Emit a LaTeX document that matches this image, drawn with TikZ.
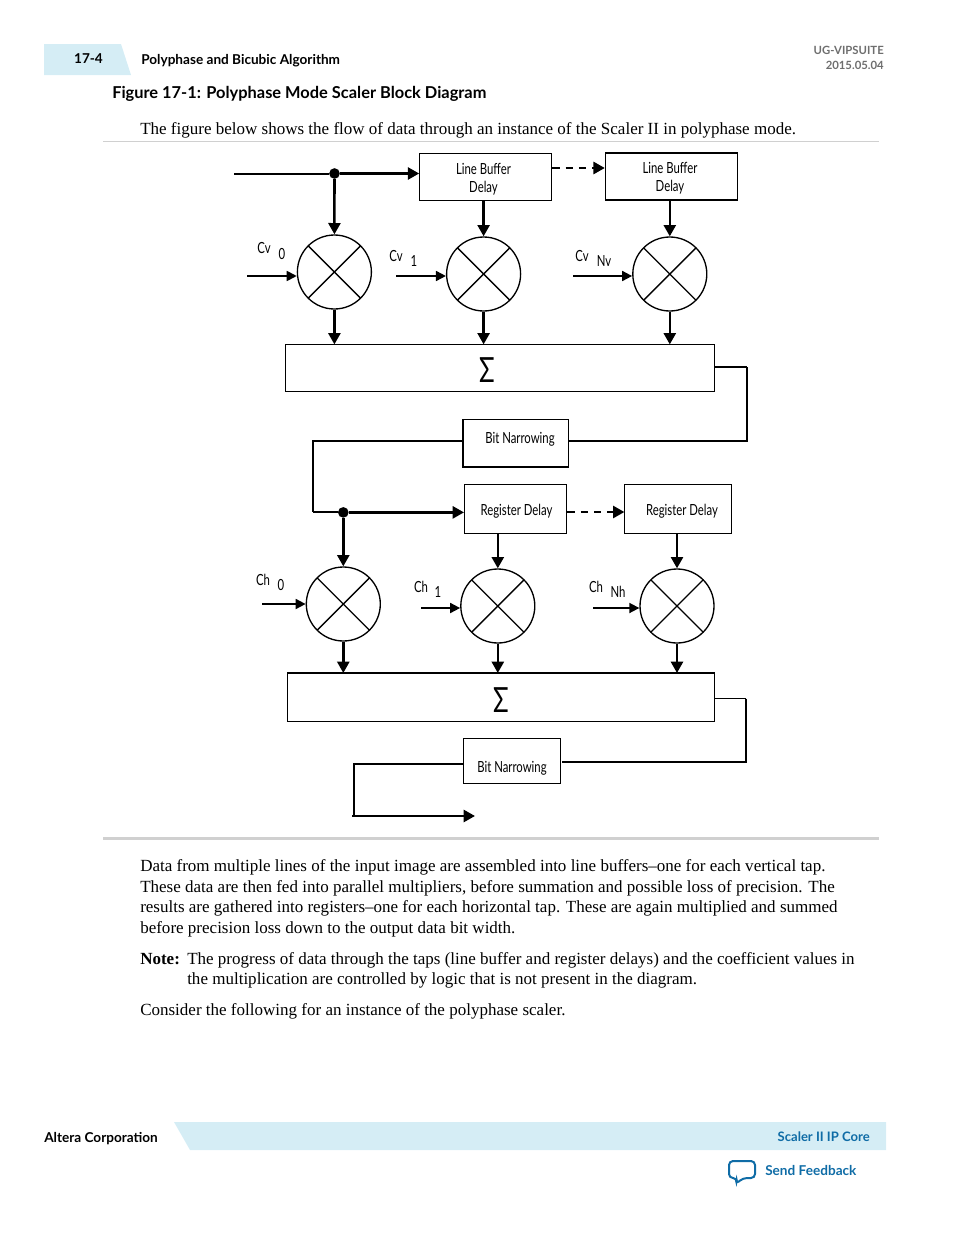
\documentclass[tikz,border=0pt]{standalone}
\usepackage{fontspec}
\setmainfont{Liberation Serif}
\newfontfamily\headfont{Lato}
\newfontfamily\blockfont[FakeStretch=0.74]{Lato}
\usetikzlibrary{arrows.meta}
\usetikzlibrary{calc}
\definecolor{bandblue}{HTML}{D5EDF5}
\definecolor{linkblue}{HTML}{0F6CA6}
\definecolor{rulegray}{HTML}{D0D0D0}
\definecolor{headgray}{HTML}{6E6E6E}
\tikzstyle{arrow} = [line width=1.9pt,-{Triangle[length=8.5pt,width=9pt]}]
\tikzstyle{thinarrow} = [line width=1.3pt,-{Triangle[length=7.5pt,width=7.5pt]}]
\tikzstyle{dasharrow} = [arrow,dash pattern=on 5.5pt off 4.5pt]
\tikzstyle{wire} = [line width=1.5pt]
\tikzstyle{blockbox} = [draw,line width=0.8pt,inner sep=0,anchor=north west]
\tikzstyle{thickbox} = [blockbox,line width=1.2pt]
\tikzstyle{mult} = [circle,draw,line width=1pt,inner sep=0,minimum size=55.5pt,
  path picture={
    \draw[line width=1pt] (path picture bounding box.north west) -- (path picture bounding box.south east);
    \draw[line width=1pt] (path picture bounding box.north east) -- (path picture bounding box.south west);
  }]
\tikzstyle{joint} = [circle,fill,inner sep=0,minimum size=8pt]
\tikzstyle{blocktext} = [inner sep=0,align=center,font=\blockfont\fontsize{11.5pt}{13.5pt}\selectfont]
\tikzstyle{sumtext} = [inner sep=0,font=\blockfont\fontsize{26pt}{28pt}\selectfont]
\tikzstyle{body} = [inner sep=0,anchor=base west,font=\fontsize{12.76pt}{14pt}\selectfont]
\tikzstyle{head} = [inner sep=0,font=\headfont\bfseries\fontsize{10.2pt}{12pt}\selectfont]
\begin{document}
\begin{tikzpicture}[x=0.75pt,y=-0.75pt]
\useasboundingbox (0,0) rectangle (954,1235);
% page header
\fill[bandblue] (44,44) -- (121,44) -- (131,75) -- (44,75) -- cycle;
\node[head] (pagenum) at (88.5,59) {17-4};
\node[head,anchor=west] (section) at (141,60.5) {Polyphase and Bicubic Algorithm};
\node[head,anchor=east,text=headgray,font=\headfont\bfseries\fontsize{8.5pt}{11pt}\selectfont] (docid) at (884,50) {UG-VIPSUITE};
\node[head,anchor=east,text=headgray,font=\headfont\bfseries\fontsize{8.5pt}{11pt}\selectfont] (docdate) at (884,65) {2015.05.04};
\node[head,anchor=west,font=\headfont\bfseries\fontsize{12.3pt}{15pt}\selectfont] (figtitle) at (112,94) {Figure 17-1: Polyphase Mode Scaler Block Diagram};
\node[body] (intro) at (140,134) {The figure below shows the flow of data through an instance of the Scaler II in polyphase mode.};
\draw[rulegray,line width=0.6pt] (103,141.5) -- (879,141.5);
% vertical stage
\node[blockbox,minimum width=99pt,minimum height=35.2pt] (lb1) at (419.2,153.3) {};
\node[thickbox,minimum width=99pt,minimum height=35.2pt] (lb2) at (604.8,152.4) {};
\node[blocktext] (lb1text) at (483.5,179.5) {Line Buffer\\Delay};
\node[blocktext] (lb2text) at (670,178.5) {Line Buffer\\Delay};
\node[joint] (jv) at (334.5,173.5) {};
\coordinate (vin) at (234,173.5);
\node[mult] (mv0) at (334.4,272) {};
\node[mult] (mv1) at (483.6,274) {};
\node[mult] (mvn) at (669.8,274) {};
\node[blockbox,minimum width=321.5pt,minimum height=35.2pt] (sumv) at (285.2,344.4) {};
\node[sumtext] (sumvtext) at (487,370) {Σ};
\coordinate (cv0in) at (247,276);
\coordinate (cv1in) at (396,276);
\coordinate (cvnin) at (573,276);
\node[blocktext] (cv0a) at (264,248) {Cv};
\node[blocktext] (cv0b) at (282,254) {0};
\node[blocktext] (cv1a) at (396,256) {Cv};
\node[blocktext] (cv1b) at (414,261) {1};
\node[blocktext] (cvna) at (582,256) {Cv};
\node[blocktext] (cvnb) at (604,261) {Nv};
\draw[wire] (vin) -- (jv);
\draw[arrow] (jv) -- (jv -| lb1.west);
\draw[arrow] (jv) -- (mv0);
\draw[dasharrow] (lb1.east |- 0,168) -- (lb2.west |- 0,168);
\draw[arrow] (mv1 |- lb1.south) -- (mv1);
\draw[arrow] (mvn |- lb2.south) -- (mvn);
\draw[thinarrow] (cv0in) -- (cv0in -| mv0.west);
\draw[thinarrow] (cv1in) -- (cv1in -| mv1.west);
\draw[thinarrow] (cvnin) -- (cvnin -| mvn.west);
\draw[arrow] (mv0) -- (mv0 |- sumv.north);
\draw[arrow] (mv1) -- (mv1 |- sumv.north);
\draw[arrow] (mvn) -- (mvn |- sumv.north);
% narrowing between stages
\node[thickbox,minimum width=79pt,minimum height=35.8pt] (bn1) at (462.4,418.6) {};
\node[blocktext] (bn1text) at (520,439.5) {Bit Narrowing};
\coordinate (bn1r) at (747,440.5);
\coordinate (bn1l) at (312.5,440.5);
\draw[line width=0.8pt] (sumv.east |- 0,367) -- (747,367);
\draw[wire] (747,367) -- (bn1r) -- (bn1r -| bn1.east);
\draw[wire] (bn1.west |- bn1l) -- (bn1l) -- (312.5,512.4);
% horizontal stage
\node[blockbox,minimum width=76.8pt,minimum height=36.2pt] (rd1) at (464,484.4) {};
\node[blockbox,minimum width=79.8pt,minimum height=36.2pt] (rd2) at (624.4,484.4) {};
\node[blocktext] (rd1text) at (516.5,511.5) {Register Delay};
\node[blocktext] (rd2text) at (682,511.5) {Register Delay};
\node[joint] (jh) at (343.3,512.4) {};
\node[mult] (mh0) at (343.3,604) {};
\node[mult] (mh1) at (497.8,606) {};
\node[mult] (mhn) at (677,606) {};
\node[blockbox,minimum width=320.5pt,minimum height=36.2pt] (sumh) at (287,673) {};
\node[sumtext] (sumhtext) at (501,700) {Σ};
\coordinate (ch0in) at (262,604);
\coordinate (ch1in) at (421,608);
\coordinate (chnin) at (593,608);
\node[blocktext] (ch0a) at (263,580) {Ch};
\node[blocktext] (ch0b) at (281,585) {0};
\node[blocktext] (ch1a) at (421,587) {Ch};
\node[blocktext] (ch1b) at (438,592) {1};
\node[blocktext] (chna) at (596,587) {Ch};
\node[blocktext] (chnb) at (618,592) {Nh};
\draw[wire] (312.5,512.4) -- (jh);
\draw[arrow] (jh) -- (jh -| rd1.west);
\draw[arrow] (jh) -- (mh0);
\draw[dasharrow] (rd1.east |- 0,512) -- (rd2.west |- 0,512);
\draw[arrow] (mh1 |- rd1.south) -- (mh1);
\draw[arrow] (mhn |- rd2.south) -- (mhn);
\draw[thinarrow] (ch0in) -- (ch0in -| mh0.west);
\draw[thinarrow] (ch1in) -- (ch1in -| mh1.west);
\draw[thinarrow] (chnin) -- (chnin -| mhn.west);
\draw[arrow] (mh0) -- (mh0 |- sumh.north);
\draw[arrow] (mh1) -- (mh1 |- sumh.north);
\draw[arrow] (mhn) -- (mhn |- sumh.north);
\draw[line width=1.4pt] (sumh.north west) -- (sumh.north east);
% output
\node[blockbox,minimum width=72.6pt,minimum height=33.8pt] (bn2) at (463.2,738) {};
\node[blocktext] (bn2text) at (512,768.5) {Bit Narrowing};
\coordinate (bn2r) at (746,762);
\coordinate (bn2l) at (354,763.5);
\coordinate (vout) at (475,816);
\draw[line width=0.8pt] (sumh.east |- 0,698.5) -- (746,698.5);
\draw[wire] (746,698.5) -- (bn2r) -- (562,762);
\draw[wire] (bn2.west |- bn2l) -- (bn2l) -- (354,816);
\draw[arrow] (352,816) -- (vout);
\draw[rulegray,line width=2pt] (103,838.5) -- (879,838.5);
% text below the figure
\node[body] (para1) at (140,871) {Data from multiple lines of the input image are assembled into line buffers–one for each vertical tap.};
\node[body] (para2) at (140,892) {These data are then fed into parallel multipliers, before summation and possible loss of precision. The};
\node[body] (para3) at (140,912) {results are gathered into registers–one for each horizontal tap. These are again multiplied and summed};
\node[body] (para4) at (140,933) {before precision loss down to the output data bit width.};
\node[body,font=\bfseries\fontsize{12.76pt}{14pt}\selectfont] (notehead) at (140,964) {Note:};
\node[body] (note1) at (187,964) {The progress of data through the taps (line buffer and register delays) and the coefficient values in};
\node[body] (note2) at (187,984) {the multiplication are controlled by logic that is not present in the diagram.};
\node[body] (para5) at (140,1015) {Consider the following for an instance of the polyphase scaler.};
% page footer
\fill[bandblue] (174,1122) -- (886,1122) -- (886,1150) -- (190,1150) -- cycle;
\node[head,anchor=west] (company) at (44,1139) {Altera Corporation};
\node[head,anchor=east,text=linkblue,font=\headfont\bfseries\fontsize{9.8pt}{12pt}\selectfont] (product) at (870,1137) {Scaler II IP Core};
\node[head,anchor=west,text=linkblue] (feedback) at (765,1170) {Send Feedback};
\draw[linkblue,line width=1.5pt,rounded corners=3pt,fill=white] (729,1161) -- (755,1161) -- (755,1178) -- (743,1178) -- (736,1184) -- (737,1178) -- (729,1178) -- cycle;
\end{tikzpicture}
\end{document}
